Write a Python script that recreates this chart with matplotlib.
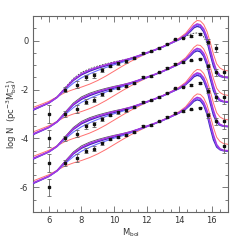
import numpy as np
import matplotlib
matplotlib.use("Agg")
import matplotlib.pyplot as plt
from matplotlib.ticker import MultipleLocator

# model grid (M_bol) and curves for the top panel; lower sets shifted by -1 each
x_mod = [5.0, 5.5, 6.0, 6.5, 7.0, 7.5, 8.0, 8.5, 9.0, 9.5, 10.0, 10.5, 11.0, 11.5,
         12.0, 12.5, 13.0, 13.5, 14.0, 14.4, 14.7, 14.9, 15.1, 15.3, 15.5, 15.7,
         15.9, 16.1, 16.3, 16.5, 16.7, 17.0]
purple = [-2.82, -2.68, -2.54, -2.32, -1.95, -1.60, -1.36, -1.20, -1.09, -0.99, -0.90,
          -0.82, -0.73, -0.62, -0.50, -0.38, -0.25, -0.10, 0.06, 0.24, 0.45, 0.60,
          0.68, 0.64, 0.48, 0.15, -0.35, -0.85, -1.25, -1.42, -1.48, -1.50]
navy = [-2.85, -2.70, -2.55, -2.32, -1.97, -1.63, -1.40, -1.25, -1.13, -1.03, -0.94,
        -0.85, -0.75, -0.63, -0.51, -0.39, -0.26, -0.11, 0.04, 0.20, 0.38, 0.52,
        0.58, 0.54, 0.36, 0.00, -0.55, -1.05, -1.35, -1.46, -1.50, -1.52]
blue = [-2.83, -2.69, -2.55, -2.33, -2.02, -1.74, -1.52, -1.36, -1.22, -1.10, -0.99,
        -0.89, -0.78, -0.65, -0.52, -0.39, -0.26, -0.11, 0.05, 0.22, 0.42, 0.56,
        0.63, 0.59, 0.42, 0.08, -0.45, -0.95, -1.30, -1.44, -1.49, -1.51]
red = [-2.74, -2.61, -2.48, -2.30, -2.12, -2.00, -1.90, -1.78, -1.63, -1.45, -1.25,
       -1.05, -0.86, -0.69, -0.53, -0.39, -0.24, -0.08, 0.10, 0.30, 0.55, 0.72,
       0.82, 0.80, 0.66, 0.38, -0.05, -0.55, -0.95, -1.12, -1.20, -1.24]
black = [-2.85, -2.70, -2.55, -2.30, -1.92, -1.55, -1.30, -1.15, -1.04, -0.95, -0.87,
         -0.80, -0.72, -0.62, -0.50, -0.38, -0.25, -0.10, 0.05, 0.18, 0.26, 0.30,
         0.31, 0.28, 0.15, -0.10, -0.50, -0.95, -1.25, -1.40, -1.46, -1.50]

# observed LF (top set)
x_obs = [6.0, 7.0, 7.75, 8.25, 8.75, 9.25, 9.75, 10.25, 10.75, 11.25, 11.75, 12.25,
         12.75, 13.25, 13.75, 14.25, 14.75, 15.25, 15.75, 16.25, 16.75]
y_obs = [-3.0, -2.0, -1.8, -1.5, -1.42, -1.2, -1.03, -0.93, -0.85, -0.72, -0.5, -0.44,
         -0.3, -0.13, 0.05, 0.12, 0.19, 0.26, -0.05, -0.3, -1.3]
e_obs = [0.35, 0.12, 0.15, 0.1, 0.1, 0.07, 0.05, 0.05, 0.05, 0.04, 0.04, 0.03,
         0.03, 0.03, 0.03, 0.03, 0.03, 0.03, 0.1, 0.15, 0.3]

offsets = [0, -1, -2, -3]

plt.rcParams['axes.unicode_minus'] = False
fig = plt.figure(figsize=(2.49, 2.40), dpi=100)
ax = fig.add_axes([0.131, 0.117, 0.785, 0.816])

xm = np.array(x_mod)
for k in offsets:
    ax.plot(xm, np.array(red) + k, color='#ff7070', lw=0.7, zorder=2)
    if k == 0:
        ax.plot(xm, np.array(black) + k, color='#333333', lw=0.6, ls=(0, (2, 1.5)), zorder=3)
    else:
        m = (xm >= 6.5) & (xm <= 12.0)
        ax.plot(xm[m], np.array(black)[m] + k, color='#555555', lw=0.6, zorder=3)
    ax.plot(xm, np.array(navy) + k, color='#4222b8', lw=1.0, zorder=4)
    ax.plot(xm, np.array(blue) + k, color='#6a6aff', lw=0.8, zorder=5)
    ax.plot(xm, np.array(purple) + k, color='#a535e2', lw=1.1, zorder=5)
    ax.errorbar(x_obs, np.array(y_obs) + k, yerr=e_obs, fmt='s', ms=1.7,
                color='#111111', ecolor='#666666', elinewidth=0.6, capsize=1.2,
                capthick=0.6, zorder=6)

ax.set_xlim(5, 17)
ax.set_ylim(-7, 1)
ax.set_xticks([6, 8, 10, 12, 14, 16])
ax.set_yticks([0, -2, -4, -6])
ax.xaxis.set_minor_locator(MultipleLocator(0.5))
ax.yaxis.set_minor_locator(MultipleLocator(0.5))
ax.tick_params(which='both', direction='in', top=True, right=True, color='#666666',
               labelsize=6, labelcolor='#333333', width=0.6, pad=3)
ax.tick_params(which='major', length=4)
ax.tick_params(which='minor', length=2)
for s in ax.spines.values():
    s.set_color('#666666')
    s.set_linewidth(0.8)
ax.set_xlabel(r'M$_{\rm bol}$', fontsize=6, color='#333333', labelpad=1)
ax.set_ylabel(r'log N  (pc$^{-3}$M$_{\rm bol}^{-1}$)', fontsize=6, color='#333333', labelpad=1)

fig.savefig('out.png', dpi=100)
